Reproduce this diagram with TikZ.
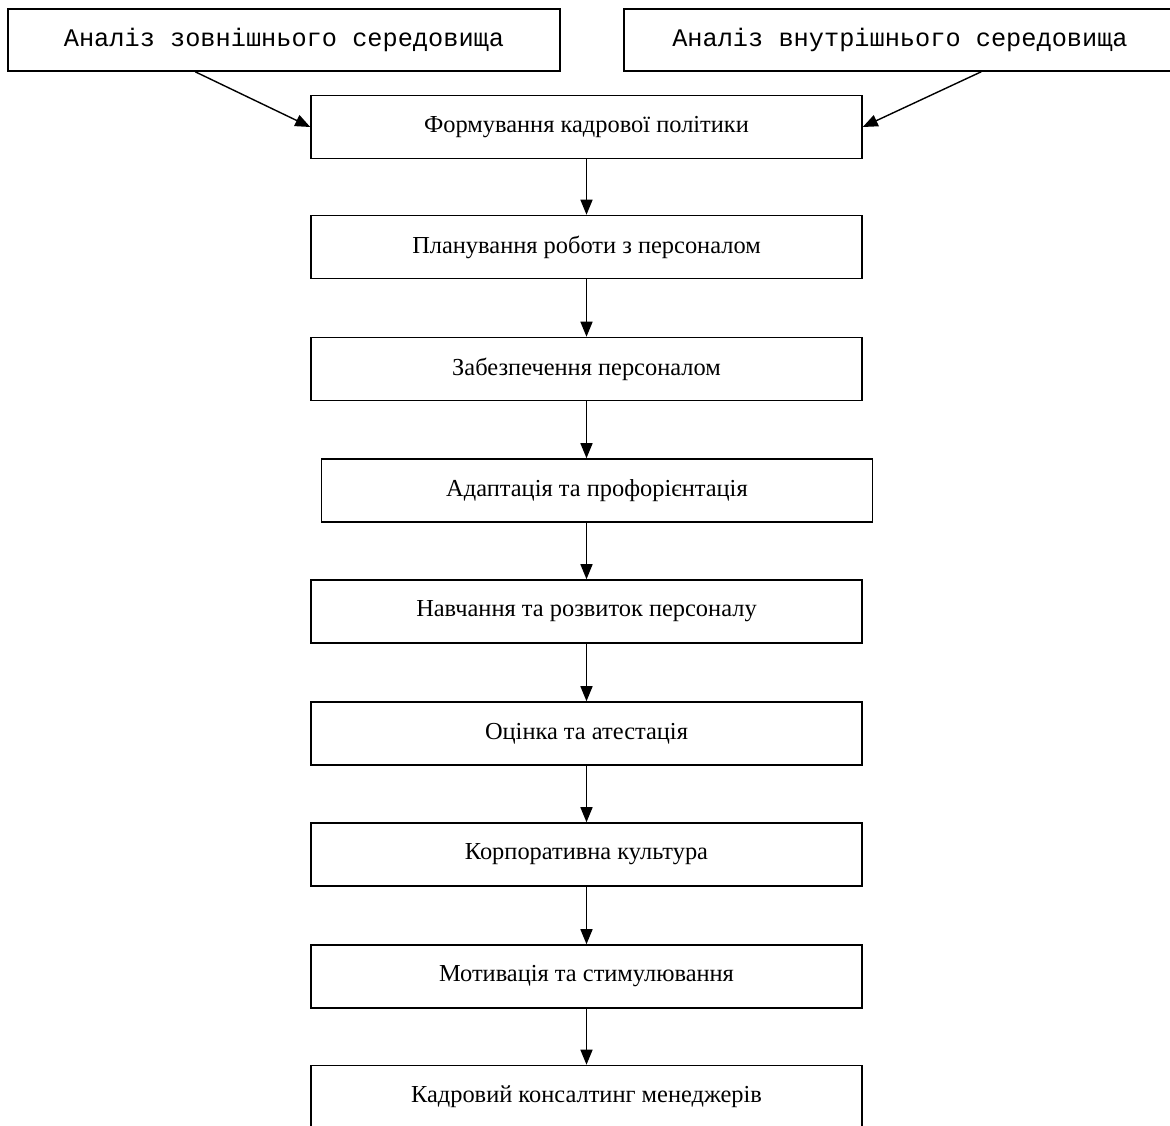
\documentclass[tikz,border=0pt]{standalone}
\usepackage{fontspec}
\setmainfont{Liberation Serif}
\newfontfamily\monofont{Liberation Mono}
\usetikzlibrary{arrows.meta,positioning}

\begin{document}
\begin{tikzpicture}[x=0.02cm,y=-0.02cm]
	\tikzset{
		stage/.style={draw,line width=0.9pt,minimum width=11.02cm,minimum height=1.26cm,
			inner sep=0pt,font=\fontsize{13.9}{16}\selectfont},
		source/.style={stage,minimum width=11.04cm,minimum height=1.24cm,
			font=\monofont\fontsize{14.4}{16}\selectfont},
		flow/.style={line width=0.8pt,-{Triangle[length=0.3cm,width=0.24cm]}}
	}
	\useasboundingbox (0,0) rectangle (1170,1126);
	\clip (0,0) rectangle (1170,1126);
	% sources
	\node[source] (ext) at (284,40) {Аналіз зовнішнього середовища};
	\node[source] (int) at (900,40) {Аналіз внутрішнього середовища};
	% stages
	\node[stage] (form)  at (586.5,127)   {Формування кадрової політики};
	\node[stage] (plan)  at (586.5,247)   {Планування роботи з персоналом};
	\node[stage] (supp)  at (586.5,369)   {Забезпечення персоналом};
	\node[stage] (adapt) at (597,490.5)   {Адаптація та профорієнтація};
	\node[stage] (train) at (586.5,611.5) {Навчання та розвиток персоналу};
	\node[stage] (eval)  at (586.5,733.5) {Оцінка та атестація};
	\node[stage] (corp)  at (586.5,854.5) {Корпоративна культура};
	\node[stage] (motiv) at (586.5,976.5) {Мотивація та стимулювання};
	\node[stage] (cons)  at (586.5,1097)  {Кадровий консалтинг менеджерів};
	% connectors
	\draw[flow] ([xshift=3.76cm]ext.south west) -- (form.west);
	\draw[flow] ([xshift=7.16cm]int.south west) -- (form.east);
	\draw[flow] (form) -- (plan);
	\draw[flow] (plan) -- (supp);
	\draw[flow] (supp.south) -- (supp.south |- adapt.north);
	\draw[flow] (adapt.south -| supp.south) -- (train.north);
	\draw[flow] (train) -- (eval);
	\draw[flow] (eval) -- (corp);
	\draw[flow] (corp) -- (motiv);
	\draw[flow] (motiv) -- (cons);
\end{tikzpicture}
\end{document}
